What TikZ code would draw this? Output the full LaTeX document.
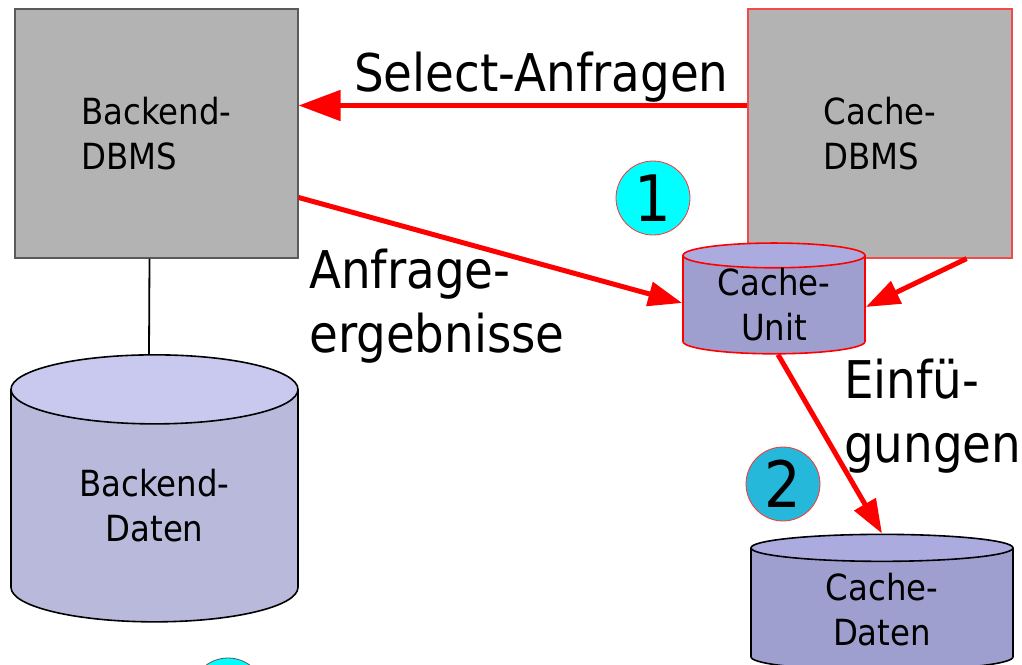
\documentclass[tikz,border=0pt]{standalone}
\usepackage{fontspec}
\setmainfont{DejaVu Sans Condensed}
\usetikzlibrary{arrows.meta,positioning,shapes.geometric}
\definecolor{dbGrey}{HTML}{B3B3B3}
\definecolor{dbEdge}{HTML}{5A5A5A}
\definecolor{dbRed}{HTML}{FF0000}
\definecolor{dbPink}{HTML}{F04A4A}
\definecolor{dbTop}{HTML}{C9C9EF}
\definecolor{dbBody}{HTML}{B9B9DB}
\definecolor{cuTop}{HTML}{ABABDF}
\definecolor{cuBody}{HTML}{9F9FCF}
\definecolor{badgeCyan}{HTML}{00FFFF}
\definecolor{badgeBlue}{HTML}{25B8DB}
\tikzset{
  dbms/.style={draw=dbEdge, fill=dbGrey, line width=1.2pt, inner sep=0pt,
               align=left, font=\fontsize{36}{45}\selectfont},
  store/.style={cylinder, shape border rotate=90, draw=black, line width=1.6pt,
                inner sep=0pt, align=center, cylinder uses custom fill,
                cylinder end fill=dbTop, cylinder body fill=dbBody,
                font=\fontsize{36}{45}\selectfont},
  badge/.style={circle, draw=dbRed!80, line width=0.8pt, inner sep=0pt,
                minimum size=74pt, font=\fontsize{64}{64}\selectfont},
  lbl/.style={align=left, inner sep=0pt, font=\fontsize{52}{64}\selectfont},
  flow/.style={-{Triangle[length=34pt,width=24pt]}, draw=dbRed, line width=5pt},
}
\begin{document}
\begin{tikzpicture}[x=1pt,y=-1pt]
  \useasboundingbox (0,0) rectangle (1022,664);
  % servers
  \node[dbms, minimum width=283pt, minimum height=249pt] (bdbms) at (156.5,133.5) {Backend-\\DBMS};
  \node[dbms, draw=dbPink, minimum width=264pt, minimum height=249pt] (cdbms) at (880,133.5) {Cache-\\DBMS};
  % data stores
  \node[store, minimum width=287pt, minimum height=267pt, aspect=0.46] (bdaten) at (154.5,506) {Backend-\\Daten};
  \node[store, draw=dbRed, cylinder end fill=cuTop, cylinder body fill=cuBody,
        minimum width=182pt, minimum height=109pt, aspect=0.22] (cunit) at (774,305) {Cache-\\Unit};
  \node[store, cylinder end fill=cuTop, cylinder body fill=cuBody,
        minimum width=262pt, minimum height=136pt, aspect=0.24] (cdaten) at (882,609.5) {Cache-\\Daten};
  % numbered steps
  \node[badge, fill=badgeCyan] (one) at (653,198) {1};
  \node[badge, fill=badgeBlue] (two) at (783,484) {2};
  \node[badge, fill=badgeCyan, draw=dbEdge] (three) at (228,695) {};
  % connections
  \draw[line width=1.8pt] ([xshift=-7pt]bdbms.south) -- ([xshift=-5.5pt]bdaten.north);
  \draw[flow, -{Triangle[length=42pt,width=30pt]}] ([yshift=28pt]cdbms.west) -- ([yshift=28pt]bdbms.east);
  \draw[flow] ([yshift=-64pt]bdbms.east) -- ([yshift=2pt]cunit.west);
  \draw[flow] ([xshift=-46pt]cdbms.south east) -- ([yshift=-2pt]cunit.east);
  \draw[flow] ([xshift=4pt]cunit.south) -- (cdaten.north);
  % labels
  \node[lbl, anchor=west] (select) at (354,77) {Select-Anfragen};
  \node[lbl, anchor=west] (result) at (309,306) {Anfrage-\\ergebnisse};
  \node[lbl, anchor=west] (insert) at (844,416) {Einfü-\\gungen};
\end{tikzpicture}
\end{document}
